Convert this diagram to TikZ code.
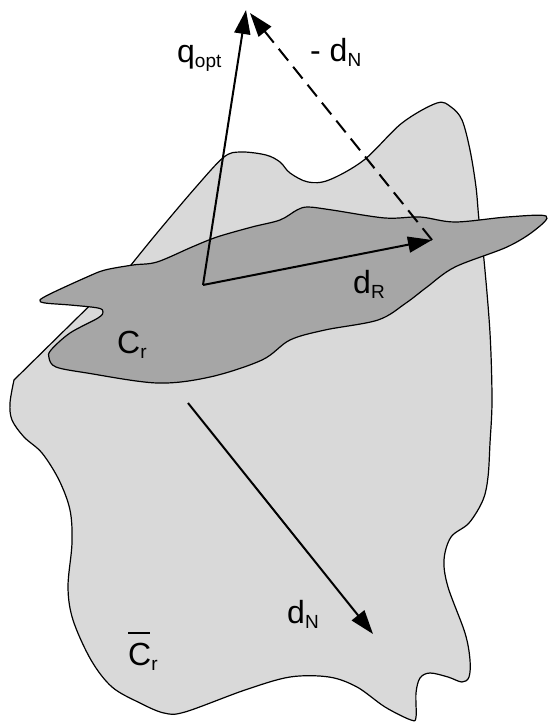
\documentclass[tikz,border=0pt]{standalone}
\usepackage{fontspec}
\setmainfont{Liberation Sans}
\usetikzlibrary{arrows.meta}
\definecolor{lightregion}{RGB}{217,217,217}
\definecolor{darkregion}{RGB}{166,166,166}
\newcommand{\mysub}[1]{\raisebox{-5pt}{\fontsize{19}{19}\selectfont #1}}
\begin{document}
\begin{tikzpicture}[x=1pt,y=-1pt,
  lab/.style={font=\fontsize{32}{33}\selectfont, inner sep=0pt, anchor=base west},
  vec/.style={line width=2pt, -{Triangle[length=24pt,width=16pt]}},
  rim/.style={line width=1.2pt, draw=black}]
\useasboundingbox (0,0) rectangle (548,722);
% outer region
\filldraw[rim, fill=lightregion] (14,380) -- (131,265) -- plot[smooth, tension=0.55] coordinates {
 (131,265) (157,233) (196,187) (224,157) (241,152) (266,155) (280,162) (290,173) (308,182) (329,180)
 (364,160) (402,123) (437,103) (451,107) (462,120) (470,150) (476,187) (479,220) (484,260) (490,333)
 (492,400) (490,443) (488,477) (483,500) (469,523) (451,537) (444,560) (448,587) (465,633) (470,660)
 (469,677) (462,682) (448,677) (430,673) (420,678) (416,693) (416,717) (411,720) (385,707) (357,687)
 (329,677) (290,677) (245,690) (185,712) (164,713) (140,703) (112,687) (91,660) (73,620) (68,587)
 (72,543) (70,510) (59,480) (42,453) (24,437) (12,420) (10,403) (14,380)} -- cycle;
% inner region
\filldraw[rim, fill=darkregion] plot[smooth cycle, tension=0.55] coordinates {
 (40,300) (52,293) (87,277) (105,270) (133,265) (157,262) (192,247) (217,237) (252,227) (280,220)
 (297,210) (308,207) (332,210) (385,218) (420,217) (455,222) (507,217) (546,216) (535,230) (507,247)
 (455,267) (427,287) (406,303) (378,320) (325,330) (290,340) (262,360) (210,377) (157,383) (87,373)
 (56,367) (49,358) (51,350) (70,333) (98,318) (103,312) (98,308) (70,305) (45,303)};
% vectors
\coordinate (o) at (203,285);
\coordinate (qtip) at (246,10);
\coordinate (drtip) at (432,240);
\coordinate (ndtip) at (250,13);
\coordinate (dnstart) at (188,403);
\coordinate (dntip) at (373,634);
\draw[vec] (o) -- (qtip);
\draw[vec] (o) -- (drtip);
\draw[vec, dash pattern=on 15pt off 8pt] (drtip) -- (ndtip);
\draw[vec] (dnstart) -- (dntip);
% labels
\node[lab] (qopt) at (177,63) {q\mysub{opt}};
\node[lab] (mdn) at (310,62) {- d\mysub{N}};
\node[lab] (dr) at (353,293) {d\mysub{R}};
\node[lab] (cr) at (117,353) {C\mysub{r}};
\node[lab] (dn) at (287,623) {d\mysub{N}};
\node[lab] (crbar) at (128,665) {\rlap{\raisebox{31pt}{\rule{0.68em}{2pt}}}C\mysub{r}};
\end{tikzpicture}
\end{document}
